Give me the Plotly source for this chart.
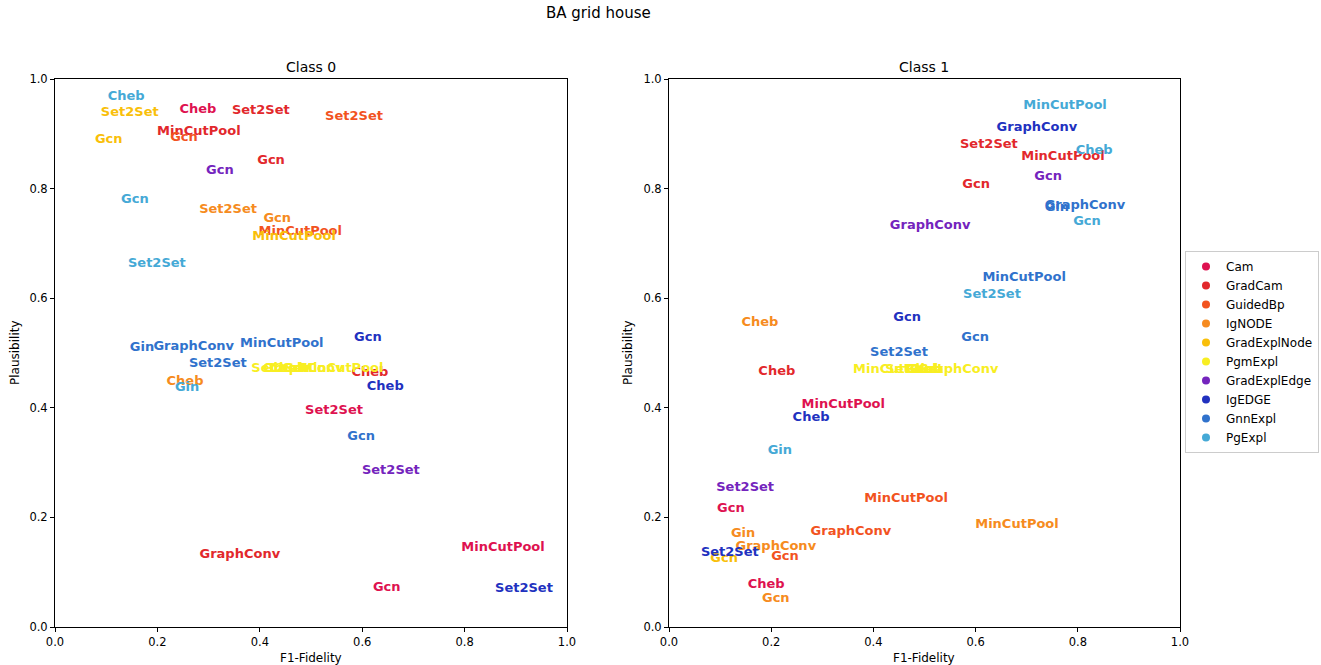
import plotly.graph_objects as go

explainers = ["Cam", "GradCam", "GuidedBp", "IgNODE", "GradExplNode",
              "PgmExpl", "GradExplEdge", "IgEDGE", "GnnExpl", "PgExpl"]
colors = ["#de1250", "#e2282c", "#f2531f", "#f68b20", "#f9bf0a",
          "#f8ee22", "#7424bd", "#2131bf", "#3072cc", "#45a9d6"]

# Class 0
c0_explainer = ["Cam", "Cam", "Cam", "Cam",
                "GradCam", "GradCam", "GradCam", "GradCam", "GradCam",
                "GuidedBp", "GuidedBp", "GuidedBp",
                "IgNODE", "IgNODE", "IgNODE",
                "GradExplNode", "GradExplNode", "GradExplNode",
                "PgmExpl", "PgmExpl", "PgmExpl", "PgmExpl", "PgmExpl", "PgmExpl",
                "GradExplEdge", "GradExplEdge",
                "IgEDGE", "IgEDGE", "IgEDGE",
                "GnnExpl", "GnnExpl", "GnnExpl", "GnnExpl", "GnnExpl",
                "PgExpl", "PgExpl", "PgExpl", "PgExpl"]
c0_model = ["Cheb", "Set2Set", "MinCutPool", "Gcn",
            "Set2Set", "MinCutPool", "Gcn", "Cheb", "GraphConv",
            "Set2Set", "Gcn", "MinCutPool",
            "Set2Set", "Gcn", "Cheb",
            "Set2Set", "Gcn", "MinCutPool",
            "Set2Set", "Gin", "Cheb", "Gcn", "GraphConv", "MinCutPool",
            "Gcn", "Set2Set",
            "Gcn", "Cheb", "Set2Set",
            "Gin", "GraphConv", "MinCutPool", "Set2Set", "Gcn",
            "Cheb", "Gcn", "Set2Set", "Gin"]
c0_f1 = [0.279, 0.545, 0.875, 0.648,
         0.402, 0.281, 0.422, 0.615, 0.361,
         0.584, 0.252, 0.479,
         0.338, 0.434, 0.254,
         0.146, 0.105, 0.467,
         0.440, 0.430, 0.455, 0.470, 0.485, 0.560,
         0.322, 0.656,
         0.611, 0.645, 0.916,
         0.170, 0.271, 0.443, 0.318, 0.598,
         0.139, 0.156, 0.199, 0.258]
c0_pl = [0.944, 0.395, 0.145, 0.072,
         0.942, 0.904, 0.851, 0.464, 0.132,
         0.931, 0.893, 0.721,
         0.762, 0.745, 0.448,
         0.939, 0.889, 0.712,
         0.471, 0.471, 0.471, 0.471, 0.471, 0.471,
         0.833, 0.285,
         0.528, 0.439, 0.070,
         0.510, 0.512, 0.517, 0.481, 0.347,
         0.968, 0.780, 0.663, 0.437]

# Class 1
c1_explainer = ["Cam", "Cam", "Cam",
                "GradCam", "GradCam", "GradCam", "GradCam",
                "GuidedBp", "GuidedBp", "GuidedBp",
                "IgNODE", "IgNODE", "IgNODE", "IgNODE", "IgNODE",
                "GradExplNode",
                "PgmExpl", "PgmExpl", "PgmExpl", "PgmExpl", "PgmExpl", "PgmExpl",
                "GradExplEdge", "GradExplEdge", "GradExplEdge",
                "IgEDGE", "IgEDGE", "IgEDGE", "IgEDGE",
                "GnnExpl", "GnnExpl", "GnnExpl", "GnnExpl", "GnnExpl",
                "PgExpl", "PgExpl", "PgExpl", "PgExpl", "PgExpl"]
c1_model = ["MinCutPool", "Gcn", "Cheb",
            "Set2Set", "MinCutPool", "Gcn", "Cheb",
            "MinCutPool", "GraphConv", "Gcn",
            "Cheb", "MinCutPool", "Gin", "GraphConv", "Gcn",
            "Gcn",
            "MinCutPool", "Set2Set", "Gcn", "Cheb", "Gin", "GraphConv",
            "Gcn", "GraphConv", "Set2Set",
            "GraphConv", "Gcn", "Cheb", "Set2Set",
            "Gin", "GraphConv", "MinCutPool", "Gcn", "Set2Set",
            "MinCutPool", "Cheb", "Gcn", "Set2Set", "Gin"]
c1_f1 = [0.341, 0.121, 0.190,
         0.626, 0.771, 0.601, 0.211,
         0.464, 0.356, 0.227,
         0.178, 0.681, 0.145, 0.209, 0.209,
         0.108,
         0.442, 0.480, 0.490, 0.500, 0.495, 0.566,
         0.742, 0.511, 0.149,
         0.720, 0.466, 0.278, 0.119,
         0.759, 0.814, 0.695, 0.599, 0.450,
         0.775, 0.832, 0.818, 0.632, 0.217]
c1_pl = [0.406, 0.216, 0.077,
         0.880, 0.858, 0.807, 0.466,
         0.234, 0.174, 0.128,
         0.555, 0.187, 0.170, 0.147, 0.052,
         0.125,
         0.470, 0.470, 0.470, 0.470, 0.470, 0.470,
         0.822, 0.732, 0.254,
         0.911, 0.565, 0.382, 0.136,
         0.765, 0.769, 0.638, 0.528, 0.501,
         0.951, 0.869, 0.740, 0.606, 0.322]

x_ticks = [0.0, 0.2, 0.4, 0.6, 0.8, 1.0]
y_ticks = [0.0, 0.2, 0.4, 0.6, 0.8, 1.0]

fig = go.Figure()
color_of = dict(zip(explainers, colors))

for ci, (ex, mo, xs, ys) in enumerate([(c0_explainer, c0_model, c0_f1, c0_pl),
                                        (c1_explainer, c1_model, c1_f1, c1_pl)]):
    xa = "x" if ci == 0 else "x2"
    ya = "y" if ci == 0 else "y2"
    for e in explainers:
        idx = [i for i, v in enumerate(ex) if v == e]
        if not idx:
            continue
        fig.add_trace(go.Scatter(
            x=[xs[i] for i in idx], y=[ys[i] for i in idx],
            text=[mo[i] for i in idx], mode="text",
            textposition="middle center",
            textfont=dict(family="DejaVu Sans", size=13, color=color_of[e], weight="bold"),
            showlegend=False, hoverinfo="skip", xaxis=xa, yaxis=ya))

for e in explainers:
    fig.add_trace(go.Scatter(x=[None], y=[None], mode="markers",
                             marker=dict(color=color_of[e], size=8),
                             name=e, showlegend=True))

W, H = 1321, 665

y0d = (H - 627) / H
y1d = (H - 79) / H
axis_common = dict(range=[0, 1], showgrid=False, zeroline=False, showline=True,
                   linecolor="black", linewidth=1, mirror=True, ticks="outside",
                   ticklen=4, tickcolor="black", tickformat=".1f", automargin=False,
                   tickfont=dict(family="DejaVu Sans", size=11.5, color="black"))
fig.update_layout(
    width=W, height=H,
    margin=dict(l=0, r=0, t=0, b=0, autoexpand=False),
    plot_bgcolor="white", paper_bgcolor="white",
    xaxis=dict(domain=[55 / W, 567 / W], anchor="y", tickvals=x_ticks, **axis_common),
    yaxis=dict(domain=[y0d, y1d], anchor="x", tickvals=y_ticks, **axis_common),
    xaxis2=dict(domain=[669 / W, 1180 / W], anchor="y2", tickvals=x_ticks, **axis_common),
    yaxis2=dict(domain=[y0d, y1d], anchor="x2", tickvals=y_ticks, **axis_common),
    legend=dict(x=1185 / W, y=1 - 352 / H, xanchor="left", yanchor="middle",
                bordercolor="#cccccc", borderwidth=1, bgcolor="white",
                font=dict(family="DejaVu Sans", size=12, color="black"),
                tracegroupgap=0, itemwidth=30),
    showlegend=True,
)

ann_font = dict(family="DejaVu Sans", color="black")
annotations = [
    dict(text="BA grid house", x=598 / W, y=1 - 13 / H, font=dict(size=15, **ann_font)),
    dict(text="Class 0", x=311 / W, y=1 - 67 / H, font=dict(size=14, **ann_font)),
    dict(text="Class 1", x=924 / W, y=1 - 67 / H, font=dict(size=14, **ann_font)),
    dict(text="F1-Fidelity", x=311 / W, y=1 - 658 / H, font=dict(size=12, **ann_font)),
    dict(text="F1-Fidelity", x=924 / W, y=1 - 658 / H, font=dict(size=12, **ann_font)),
    dict(text="Plausibility", x=15 / W, y=1 - 353 / H, textangle=-90, font=dict(size=12, **ann_font)),
    dict(text="Plausibility", x=628 / W, y=1 - 353 / H, textangle=-90, font=dict(size=12, **ann_font)),
]
for a in annotations:
    a.update(xref="paper", yref="paper", showarrow=False, xanchor="center", yanchor="middle")
fig.update_layout(annotations=annotations)

fig.write_html("out.html", config={"displayModeBar": False},
               post_script="document.body.style.margin='0';document.body.style.overflow='hidden';")
